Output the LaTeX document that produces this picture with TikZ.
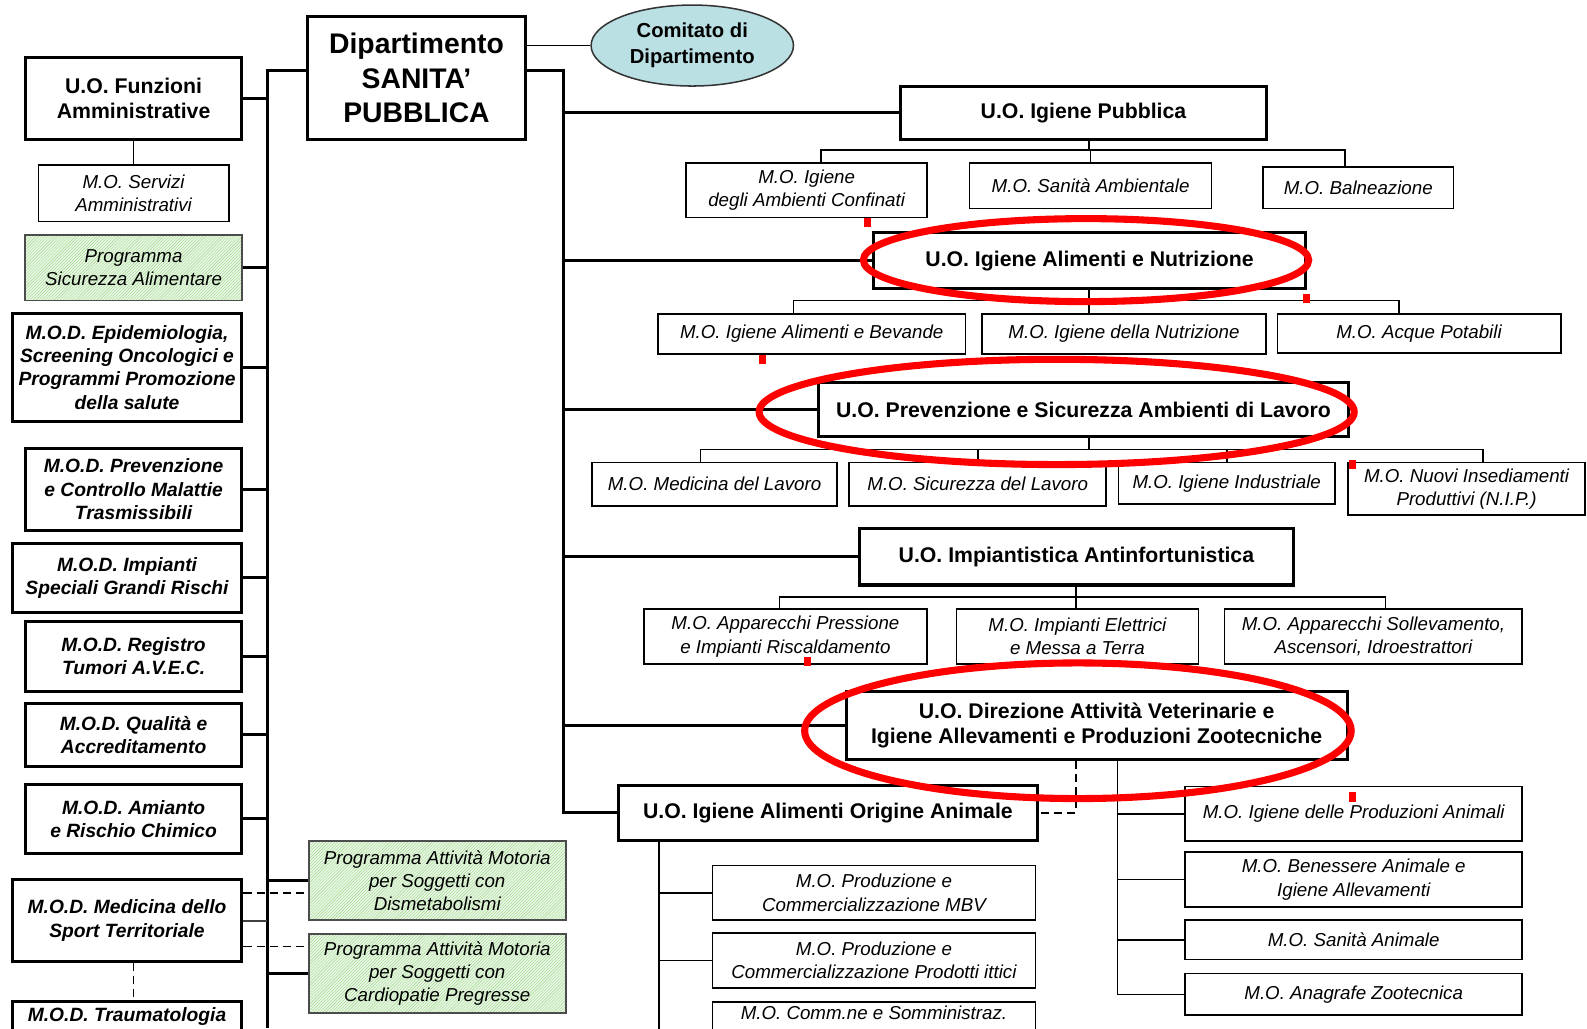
\documentclass[tikz,border=0pt]{standalone}
\usepackage{fontspec}
\setmainfont{Liberation Sans}
\usetikzlibrary{shapes.geometric,patterns}
\definecolor{comfill}{RGB}{186,224,228}
\definecolor{progfill}{RGB}{234,248,230}
\definecolor{proghatch}{RGB}{160,215,140}
\tikzset{
  uobox/.style={draw,line width=3pt,font=\bfseries\fontsize{21}{25}\selectfont,align=center,inner sep=0pt},
  modbox/.style={draw,line width=3pt,font=\bfseries\itshape\fontsize{19}{23}\selectfont,align=center,inner sep=0pt},
  mobox/.style={draw,line width=1.6pt,font=\itshape\fontsize{18.5}{23}\selectfont,align=center,inner sep=0pt},
  progbox/.style={mobox,draw=black!70,preaction={fill=progfill},pattern=north east lines,pattern color=proghatch},
  combox/.style={ellipse,draw=black!80,line width=1.5pt,fill=comfill,font=\bfseries\fontsize{20}{26}\selectfont,align=center,inner sep=0pt},
  trunkline/.style={line width=3pt},
  thinline/.style={line width=1.6pt},
  midline/.style={line width=2pt,black!75},
  dashline/.style={line width=1.6pt,dash pattern=on 8pt off 5pt},
  redring/.style={line width=7pt,red},
  redmark/.style={fill=red}
}
\begin{document}
\begin{tikzpicture}[x=1pt,y=-1pt]
\useasboundingbox (0,0) rectangle (1568,1016);
\clip (0,0) rectangle (1568,1016);
\node[uobox,minimum width=215,minimum height=122,font=\bfseries\fontsize{28}{34}\selectfont] (dip) at (411.5,77) {Dipartimento\\SANITA’\\PUBBLICA};
\node[combox,minimum width=200,minimum height=80] (com) at (684,45) {Comitato di\\Dipartimento};
\node[uobox,minimum width=214,minimum height=81] (fa) at (132,97.5) {U.O. Funzioni\\Amministrative};
\node[mobox,minimum width=188,minimum height=56] (msa) at (132,191) {M.O. Servizi\\Amministrativi};
\node[progbox,minimum width=214,minimum height=65] (psa) at (132,264.5) {Programma\\Sicurezza Alimentare};
\node[modbox,minimum width=227,minimum height=106] (epi) at (125.5,363) {M.O.D. Epidemiologia,\\Screening Oncologici e\\Programmi Promozione\\della salute};
\node[modbox,minimum width=214,minimum height=81] (mal) at (132,483.5) {M.O.D. Prevenzione\\e Controllo Malattie\\Trasmissibili};
\node[modbox,minimum width=227,minimum height=68] (isg) at (125.5,571) {M.O.D. Impianti\\Speciali Grandi Rischi};
\node[modbox,minimum width=214,minimum height=69] (rtu) at (132,648.5) {M.O.D. Registro\\Tumori A.V.E.C.};
\node[modbox,minimum width=214,minimum height=62] (qua) at (132,726) {M.O.D. Qualità e\\Accreditamento};
\node[modbox,minimum width=214,minimum height=68] (ami) at (132,809) {M.O.D. Amianto\\e Rischio Chimico};
\node[modbox,minimum width=227,minimum height=81] (msp) at (125.5,909.5) {M.O.D. Medicina dello\\Sport Territoriale};
\node[modbox,anchor=north,minimum width=227,inner ysep=6pt,text depth=60pt] (tra) at (125.5,988) {M.O.D. Traumatologia};
\node[progbox,minimum width=254,minimum height=78] (pad) at (432,870) {Programma Attività Motoria\\per Soggetti con\\Dismetabolismi};
\node[progbox,minimum width=254,minimum height=78] (pac) at (432,962) {Programma Attività Motoria\\per Soggetti con\\Cardiopatie Pregresse};
\node[uobox,minimum width=361,minimum height=53] (uoip) at (1070.5,111.5) {U.O. Igiene Pubblica};
\node[mobox,minimum width=238,minimum height=54] (moiac) at (797,188) {M.O. Igiene\\degli Ambienti Confinati};
\node[mobox,minimum width=239,minimum height=45] (mosa) at (1077.5,183.5) {M.O. Sanità Ambientale};
\node[mobox,minimum width=188,minimum height=41] (mobal) at (1342,185.5) {M.O. Balneazione};
\node[uobox,minimum width=427,minimum height=55] (uoan) at (1076.5,257.5) {U.O. Igiene Alimenti e Nutrizione};
\node[mobox,minimum width=304,minimum height=40] (moiab) at (802,330) {M.O. Igiene Alimenti e Bevande};
\node[mobox,minimum width=281,minimum height=40] (monut) at (1110.5,330) {M.O. Igiene della Nutrizione};
\node[mobox,minimum width=280,minimum height=39] (moacq) at (1402,329.5) {M.O. Acque Potabili};
\node[uobox,minimum width=523,minimum height=53] (uopsal) at (1070.5,404.5) {U.O. Prevenzione e Sicurezza Ambienti di Lavoro};
\node[mobox,minimum width=242,minimum height=43] (momed) at (706,478.5) {M.O. Medicina del Lavoro};
\node[mobox,minimum width=254,minimum height=43] (mosic) at (966,478.5) {M.O. Sicurezza del Lavoro};
\node[mobox,minimum width=214,minimum height=41] (moind) at (1212,477.5) {M.O. Igiene Industriale};
\node[mobox,minimum width=234,minimum height=52] (monip) at (1449,483) {M.O. Nuovi Insediamenti\\Produttivi (N.I.P.)};
\node[uobox,minimum width=429,minimum height=56] (uoimp) at (1063.5,550) {U.O. Impiantistica Antinfortunistica};
\node[mobox,minimum width=280,minimum height=54] (moapp) at (776,629) {M.O. Apparecchi Pressione\\e Impianti Riscaldamento};
\node[mobox,minimum width=239,minimum height=54] (moele) at (1064.5,629) {M.O. Impianti Elettrici\\e Messa a Terra};
\node[mobox,minimum width=294,minimum height=54] (mosol) at (1357,629) {M.O. Apparecchi Sollevamento,\\Ascensori, Idroestrattori};
\node[uobox,minimum width=495,minimum height=67] (dav) at (1083.5,716.5) {U.O. Direzione Attività Veterinarie e\\Igiene Allevamenti e Produzioni Zootecniche};
\node[uobox,minimum width=414,minimum height=54] (uoaoa) at (818,803) {U.O. Igiene Alimenti Origine Animale};
\node[mobox,minimum width=319,minimum height=54] (mombv) at (863.5,882) {M.O. Produzione e\\Commercializzazione MBV};
\node[mobox,minimum width=319,minimum height=54] (moitt) at (863.5,949) {M.O. Produzione e\\Commercializzazione Prodotti ittici};
\node[mobox,anchor=north,minimum width=319,inner ysep=4pt,text depth=40pt] (mocom) at (863.5,989) {M.O. Comm.ne e Somministraz.};
\node[mobox,minimum width=333,minimum height=54] (moipa) at (1337.5,804) {M.O. Igiene delle Produzioni Animali};
\node[mobox,minimum width=333,minimum height=54] (moben) at (1337.5,869) {M.O. Benessere Animale e\\Igiene Allevamenti};
\node[mobox,minimum width=333,minimum height=39] (mosan) at (1337.5,928.5) {M.O. Sanità Animale};
\node[mobox,minimum width=333,minimum height=41] (moana) at (1337.5,982.5) {M.O. Anagrafe Zootecnica};
\coordinate (lt) at (264,70);
\coordinate (lb) at (264,1016);
\coordinate (rt) at (557,70);
\coordinate (bip) at (1076,148);
\coordinate (ban) at (1076,297);
\coordinate (bps) at (1076,444);
\coordinate (bim) at (1063,590);
\coordinate (dvs) at (1104,750);
\coordinate (aos) at (651,830);
\draw[thinline] (dip.east |- com) -- (com);
\draw[trunkline] (dip.west |- lt) -- (lt) -- (lb);
\draw[trunkline] (dip.east |- rt) -- (rt) |- (uoaoa.west);
\draw[trunkline] (fa.east) -- (fa.east -| lt);
\draw[thinline] (fa.south) -- (msa.north);
\draw[trunkline] (psa.east) -- (psa.east -| lt);
\draw[trunkline] (epi.east) -- (epi.east -| lt);
\draw[trunkline] (mal.east) -- (mal.east -| lt);
\draw[trunkline] (isg.east) -- (isg.east -| lt);
\draw[trunkline] (rtu.east) -- (rtu.east -| lt);
\draw[trunkline] (qua.east) -- (qua.east -| lt);
\draw[trunkline] (ami.east) -- (ami.east -| lt);
\draw[midline] (msp.east) -- (msp.east -| lt);
\draw[dashline] ([yshift=27.5pt]msp.east) -- ([yshift=27.5pt]msp.east -| pad.west);
\draw[dashline] ([yshift=-25.5pt]msp.east) -- ([yshift=-25.5pt]msp.east -| pac.west);
\draw[dashline] ([xshift=6.5pt]msp.south) -- ([xshift=6.5pt]tra.north);
\draw[trunkline] (pad.west -| lt) -- (pad.west);
\draw[trunkline] (pac.west -| lt) -- (pac.west);
\draw[trunkline] (uoip.west -| rt) -- (uoip.west);
\draw[trunkline] (uoan.west -| rt) -- (uoan.west);
\draw[trunkline] (uopsal.west -| rt) -- (uopsal.west);
\draw[trunkline] (uoimp.west -| rt) -- (uoimp.west);
\draw[trunkline] (dav.west -| rt) -- (dav.west);
\draw[thinline] (uoip.south -| bip) -- (bip);
\draw[thinline] ([xshift=14pt]moiac.north) |- (bip) -| ([xshift=-13pt]mobal.north);
\draw[thinline] (mosa.north) -- (mosa.north |- bip);
\draw[thinline] (uoan.south -| ban) -- (monut.north -| ban);
\draw[thinline] ([xshift=-18pt]moiab.north) |- (ban) -| ([xshift=-20pt]moacq.north);
\draw[thinline] (uopsal.south -| bps) -- (bps);
\draw[thinline] ([xshift=-14pt]momed.north) |- (bps) -| ([xshift=16pt]monip.north);
\draw[thinline] (mosic.north) -- (mosic.north |- bps);
\draw[thinline] (moind.north) -- (moind.north |- bps);
\draw[thinline] (uoimp.south -| bim) -- (moele.north -| bim);
\draw[thinline] ([xshift=-6pt]moapp.north) |- (bim) -| ([xshift=12pt]mosol.north);
\draw[thinline] (dav.south -| dvs) |- (moipa.west);
\draw[thinline] (dav.south -| dvs) |- (moben.west);
\draw[thinline] (dav.south -| dvs) |- (mosan.west);
\draw[thinline] (dav.south -| dvs) |- (moana.west);
\draw[dashline] ([xshift=-20.5pt]dav.south) |- (uoaoa.east);
\draw[thinline] (uoaoa.south -| aos) |- (mombv.west);
\draw[thinline] (uoaoa.south -| aos) |- (moitt.west);
\draw[thinline] (uoaoa.south -| aos) |- (mocom.west);
\fill[redmark] (854,215) rectangle (861,224);
\fill[redmark] (1287,290) rectangle (1294,299);
\fill[redmark] (750,351) rectangle (757,360);
\fill[redmark] (1333,454) rectangle (1340,463);
\fill[redmark] (794,649) rectangle (801,658);
\fill[redmark] (1333,783) rectangle (1340,792);
\draw[redring] (1073,257) ellipse [x radius=220pt,y radius=41pt];
\draw[redring] (1044,407) ellipse [x radius=294pt,y radius=52pt];
\draw[redring] (1065,722) ellipse [x radius=270pt,y radius=67pt];
\end{tikzpicture}
\end{document}
